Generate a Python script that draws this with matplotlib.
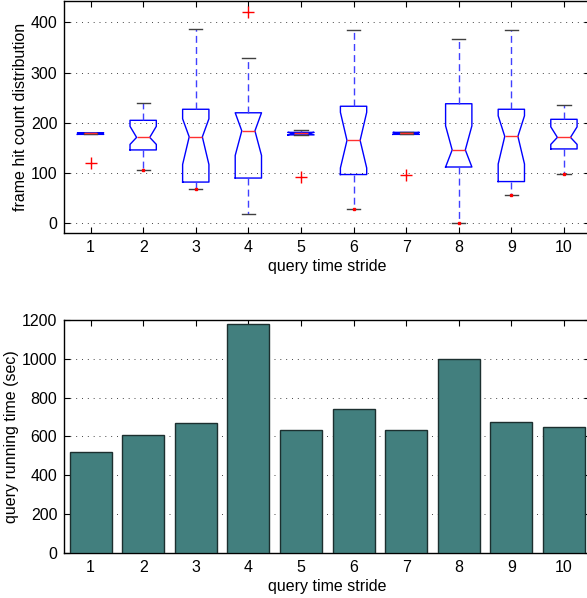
#!/usr/bin/env python3
import numpy as np
import matplotlib
matplotlib.use("Agg")
import matplotlib.pyplot as plt

plt.rcParams['font.family'] = ['Liberation Sans', 'DejaVu Sans']
plt.rcParams['font.size'] = 11.5

STRIDE = [1, 2, 3, 4, 5, 6, 7, 8, 9, 10]

# box summary values
MED = [179, 171, 172, 184, 179, 165, 179, 146, 173, 171]
Q1 = [177, 146, 82, 90, 176, 97, 177, 112, 83, 148]
Q3 = [180, 205, 227, 220, 181, 233, 181, 238, 227, 207]
WLO = [177, 107, 68, 19, 175, 28, 177, 0, 57, 99]
WHI = [180, 240, 387, 330, 185, 385, 181, 367, 385, 235]
CILO = [177, 157, 117, 135, 176, 110, 177, 112, 118, 157]
CIHI = [180, 193, 208, 220, 181, 221, 181, 194, 214, 192]
OUTLIERS = [[119], [], [], [420], [92], [], [96], [], [], []]
# tiny red marks sitting on the lower caps
CAP_DOTS = [2, 3, 6, 8, 9, 10]

RUNTIME = [518, 608, 667, 1181, 634, 743, 634, 1000, 676, 650]


def main():
    fig = plt.figure(figsize=(5.87, 5.98), dpi=100)
    ax1 = fig.add_axes([0.1095, 0.6099, 0.896, 0.3879])
    ax2 = fig.add_axes([0.1095, 0.0758, 0.896, 0.3891])

    stats = []
    for i in range(len(STRIDE)):
        stats.append(dict(med=MED[i], q1=Q1[i], q3=Q3[i], whislo=WLO[i], whishi=WHI[i],
                          cilo=CILO[i], cihi=CIHI[i], fliers=OUTLIERS[i]))
    ax1.bxp(stats, positions=STRIDE, widths=0.5, shownotches=True,
            boxprops=dict(color='#0000ff', linewidth=1),
            whiskerprops=dict(color='#4040ff', linewidth=1, linestyle=(0, (5, 3))),
            capprops=dict(color='#404040', linewidth=1),
            medianprops=dict(color='#ff3030', linewidth=1, zorder=4),
            flierprops=dict(marker='+', markeredgecolor='red', markersize=9,
                            linestyle='none', markeredgewidth=1))
    ax1.plot(CAP_DOTS, [WLO[s - 1] for s in CAP_DOTS], 's', color='red',
             markersize=1.8, zorder=5)

    ax1.set_xlim(0.5, 10.5)
    ax1.set_ylim(-20, 442)
    ax1.set_yticks([0, 100, 200, 300, 400])
    ax1.set_xticks(STRIDE)
    ax1.set_xticklabels([str(s) for s in STRIDE])
    ax1.set_xlabel("query time stride", labelpad=3)
    ax1.set_ylabel("frame hit count distribution", labelpad=1.5)

    ax2.bar(STRIDE, RUNTIME, width=0.8, color='#427f7e', edgecolor='#1c2f2f',
            linewidth=1, zorder=3)
    ax2.set_xlim(0.5, 10.5)
    ax2.set_ylim(0, 1200)
    ax2.set_yticks(range(0, 1201, 200))
    ax2.set_xticks(STRIDE)
    ax2.set_xlabel("query time stride", labelpad=3)
    ax2.set_ylabel("query running time (sec)", labelpad=2)

    for ax in (ax1, ax2):
        ax.yaxis.grid(True, linestyle=(0, (1, 5)), color='#444444', linewidth=0.7)
        ax.set_axisbelow(True)
        ax.tick_params(direction='in', top=True, right=True, length=4, width=0.8, pad=5)
        for sp in ax.spines.values():
            sp.set_linewidth(1)

    fig.savefig("out.png", dpi=100)


if __name__ == '__main__':
    main()
